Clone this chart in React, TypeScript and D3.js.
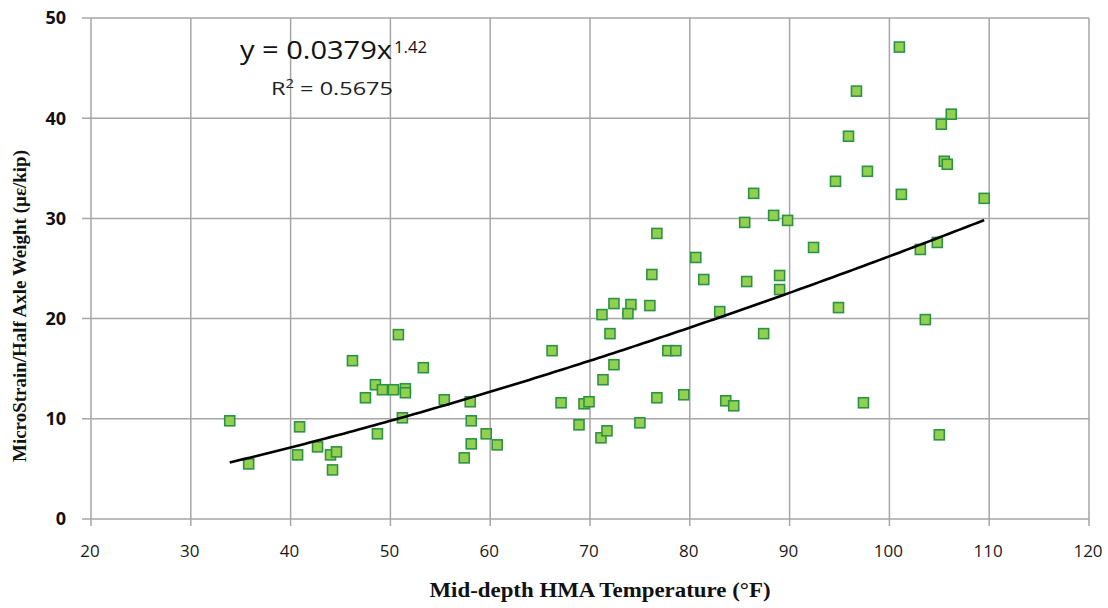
import React from 'react';
import * as d3 from 'd3';

// mid-depth HMA temperature (°F) and microstrain per half axle weight (µε/kip)
const tempF = [
  33.9, 35.8, 40.9, 40.7, 42.7, 44.0, 44.6, 44.2, 46.2, 47.5,
  48.5, 49.2, 50.3, 50.8, 51.5, 51.5, 48.7, 51.2, 53.3, 55.4,
  58.0, 58.1, 59.6, 58.1, 60.7, 57.4, 66.2, 67.1, 68.9, 69.4,
  69.9, 71.1, 71.7, 71.3, 72.4, 72.0, 71.2, 72.4, 74.1, 73.8,
  76.0, 76.2, 76.7, 75.0, 76.7, 77.8, 78.6, 79.4, 80.6, 81.4,
  83.0, 83.6, 84.4, 85.5, 88.4, 89.8, 85.7, 87.4, 89.0, 89.0,
  92.4, 94.9, 86.4, 101.0, 96.7, 95.9, 94.6, 97.8, 106.2, 105.2,
  105.5, 105.8, 101.2, 109.5, 103.1, 104.8, 103.6, 97.4, 105.0,
];
const strain = [
  9.8, 5.5, 9.2, 6.4, 7.2, 6.4, 6.7, 4.9, 15.8, 12.1,
  13.4, 12.9, 12.9, 18.4, 13.0, 12.6, 8.5, 10.1, 15.1, 11.9,
  11.7, 9.8, 8.5, 7.5, 7.4, 6.1, 16.8, 11.6, 9.4, 11.5,
  11.7, 8.1, 8.8, 13.9, 15.4, 18.5, 20.4, 21.5, 21.4, 20.5,
  21.3, 24.4, 28.5, 9.6, 12.1, 16.8, 16.8, 12.4, 26.1, 23.9,
  20.7, 11.8, 11.3, 29.6, 30.3, 29.8, 23.7, 18.5, 24.3, 22.9,
  27.1, 21.1, 32.5, 47.1, 42.7, 38.2, 33.7, 34.7, 40.4, 39.4,
  35.7, 35.4, 32.4, 32.0, 26.9, 27.6, 19.9, 11.6, 8.4,
];
const xTicks = [20, 30, 40, 50, 60, 70, 80, 90, 100, 110, 120];
const yTicks = [0, 10, 20, 30, 40, 50];

// power trendline y = a * x^b
const trendA = 0.0379;
const trendB = 1.42;
const eqText = 'y = 0.0379x';
const eqPow = '1.42';
const r2Value = '0.5675';

const W = 1108, H = 608;
const gridColor = '#a6a6a6';
const tickFont = '"Open Sans", "Noto Sans", sans-serif';
const titleFont = '"Liberation Serif", "Times New Roman", serif';

export default function App() {
  const x = d3.scaleLinear().domain([20, 120]).range([91, 1089]);
  const y = d3.scaleLinear().domain([0, 50]).range([519, 18]);

  const xMin = d3.min(tempF) as number;
  const xMax = d3.max(tempF) as number;
  const trendPts = d3.range(xMin, xMax, 0.5).concat([xMax]).map(v => [v, trendA * Math.pow(v, trendB)] as [number, number]);
  const trendPath = d3.line<[number, number]>().x(d => x(d[0])).y(d => y(d[1]))(trendPts) || '';

  const box = 10;

  return (
    <svg width={W} height={H} style={{ position: 'absolute', left: 0, top: 0, background: '#fff' }}>
      {/* grid */}
      <g stroke={gridColor} strokeWidth={1.5}>
        {xTicks.map(t => (
          <line key={'gx' + t} x1={x(t)} x2={x(t)} y1={y(50)} y2={y(0) + 7} />
        ))}
        {yTicks.map(t => (
          <line key={'gy' + t} x1={x(20) - 9} x2={x(120)} y1={y(t)} y2={y(t)} />
        ))}
      </g>

      {/* tick labels */}
      <g fontFamily={tickFont} fontSize={17} fill="#1a1a1a" textAnchor="middle">
        {xTicks.map(t => (
          <text key={'tx' + t} x={x(t) - 1} y={557}>{t}</text>
        ))}
      </g>
      <g fontFamily={tickFont} fontSize={18} fontWeight="bold" fill="#111" textAnchor="end">
        {yTicks.map(t => (
          <text key={'ty' + t} x={66} y={y(t)} dy="0.36em">{t}</text>
        ))}
      </g>

      {/* data */}
      <g fill="#92d050" stroke="#2e9244" strokeWidth={1.6}>
        {tempF.map((t, i) => (
          <rect key={i} x={x(t) - box / 2} y={y(strain[i]) - box / 2} width={box} height={box} />
        ))}
      </g>

      <path d={trendPath} fill="none" stroke="#000" strokeWidth={2.6} />

      {/* equation */}
      <text x={240} y={59} fontFamily={tickFont} fontSize={25} fill="#111" textLength={152} lengthAdjust="spacingAndGlyphs">{eqText}</text>
      <text x={394} y={53} fontFamily={tickFont} fontSize={16} fill="#111" textLength={33} lengthAdjust="spacingAndGlyphs">{eqPow}</text>
      <text x={271} y={95} fontFamily={tickFont} fontSize={19} fill="#222" textLength={122} lengthAdjust="spacingAndGlyphs">
        R<tspan fontSize={12} dy={-7}>2</tspan><tspan dy={7}>{' = ' + r2Value}</tspan>
      </text>

      {/* axis titles */}
      <text x={600} y={597} textAnchor="middle" fontFamily={titleFont} fontWeight="bold" fontSize={21} fill="#111" textLength={341} lengthAdjust="spacingAndGlyphs">
        Mid-depth HMA Temperature (°F)
      </text>
      <text transform="translate(26,306) rotate(-90)" textAnchor="middle" fontFamily={titleFont} fontWeight="bold" fontSize={19} fill="#111" textLength={312} lengthAdjust="spacingAndGlyphs">
        MicroStrain/Half Axle Weight (µε/kip)
      </text>
    </svg>
  );
}
